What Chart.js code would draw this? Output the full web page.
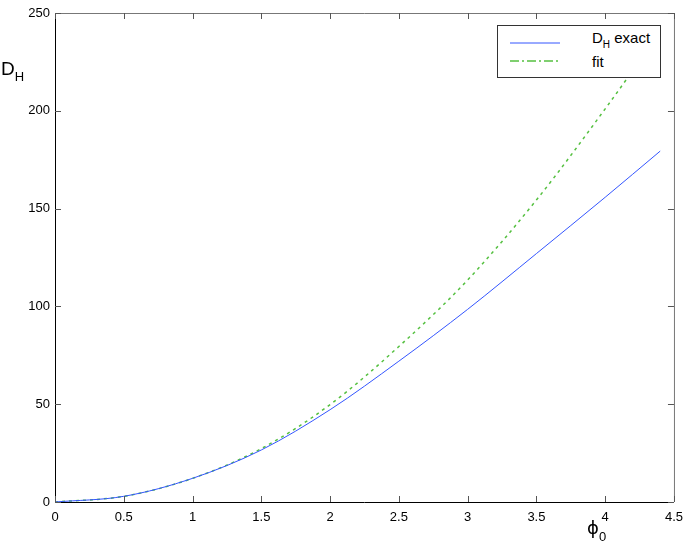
<!DOCTYPE html>
<html>
<head>
<meta charset="utf-8">
<script src="https://cdn.jsdelivr.net/npm/chart.js@4"></script>
<style>
  body { margin: 0; background: #fff; font-family: "Liberation Sans", Arial, sans-serif; }
  #wrap { position: relative; width: 691px; height: 549px; }
  .lbl { position: absolute; color: #000; white-space: nowrap; line-height: 1; }
  .lbl sub { font-size: 0.68em; vertical-align: -0.45em; }
  #legend { position: absolute; left: 497px; top: 25px; width: 162px; height: 51px; border: 1px solid #333; background: #fff; }
  #legend svg { position: absolute; left: 12px; }
  #legend .txt { position: absolute; left: 94px; font-size: 15px; }
</style>
</head>
<body>
<div id="wrap">
  <canvas id="chart" width="691" height="549"></canvas>
  <div class="lbl" style="left:1px; top:59px; font-size:19px;">D<sub style="font-size:13px; vertical-align:-6px;">H</sub></div>
  <div class="lbl" style="left:587px; top:519px; font-size:18px; font-family:'DejaVu Sans';">ϕ<sub style="font-size:13px; vertical-align:-7px; font-family:'Liberation Sans';">0</sub></div>
  <div id="legend">
    <svg width="52" height="4" style="top:15px"><line x1="0" y1="2" x2="50" y2="2" stroke="#3355ff" stroke-width="1"/></svg>
    <div class="txt" style="top:3px;">D<sub style="font-size:10px; vertical-align:-5px;">H</sub> exact</div>
    <svg width="52" height="4" style="top:33px"><line x1="0" y1="2" x2="50" y2="2" stroke="#55c040" stroke-width="1.5" stroke-dasharray="9,3,2,3"/></svg>
    <div class="txt" style="top:27px;">fit</div>
  </div>
</div>
<script>
// values
const phi = [0, 0.5, 1, 1.5, 2, 2.5, 3, 3.5, 4, 4.4];
const dExact = [0, 2.9, 12.1, 26.6, 47.2, 72, 98.5, 127, 155.8, 179.4];
const dFit = [0, 2.9, 12.1, 27.3, 49.8, 79.5, 113.5, 154.4, 201, 240.4];

const xTicks = [0, 0.5, 1, 1.5, 2, 2.5, 3, 3.5, 4, 4.5];
const yTicks = [0, 50, 100, 150, 200, 250];

function pts(ys) {
    return phi.map((x, i) => ({ x: x, y: ys[i] }));
}

// matlab style box with inward ticks
const boxTicks = {
    id: 'boxTicks',
    afterDraw(chart) {
        const { ctx, chartArea: a, scales } = chart;
        ctx.save();
        ctx.lineWidth = 1;
        ctx.strokeStyle = '#777';
        ctx.beginPath();
        ctx.moveTo(a.left, a.top + 0.5);
        ctx.lineTo(a.right + 0.5, a.top + 0.5);
        ctx.lineTo(a.right + 0.5, a.bottom);
        ctx.stroke();

        ctx.strokeStyle = '#555';
        ctx.beginPath();
        scales.x.ticks.forEach(t => {
            let px = Math.round(scales.x.getPixelForValue(t.value)) + 0.5;
            ctx.moveTo(px, a.bottom);
            ctx.lineTo(px, a.bottom - 6);
            ctx.moveTo(px, a.top);
            ctx.lineTo(px, a.top + 6);
        });
        scales.y.ticks.forEach(t => {
            let py = Math.round(scales.y.getPixelForValue(t.value)) + 0.5;
            ctx.moveTo(a.left, py);
            ctx.lineTo(a.left + 6, py);
            ctx.moveTo(a.right, py);
            ctx.lineTo(a.right - 6, py);
        });
        ctx.stroke();
        ctx.restore();
    }
};

const ctx = document.getElementById('chart').getContext('2d');

new Chart(ctx, {
    type: 'line',
    data: {
        datasets: [{
            label: 'D_H exact',
            data: pts(dExact),
            borderColor: '#3355ff',
            borderWidth: 1,
            pointRadius: 0,
            cubicInterpolationMode: 'monotone',
            fill: false
        }, {
            label: 'fit',
            data: pts(dFit),
            borderColor: '#55c040',
            borderWidth: 1.5,
            borderDash: [3, 4],
            pointRadius: 0,
            cubicInterpolationMode: 'monotone',
            fill: false
        }]
    },
    options: {
        responsive: false,
        animation: false,
        events: [],
        layout: { padding: { top: 13, right: 15, left: 0, bottom: 0 } },
        plugins: {
            legend: { display: false },
            tooltip: { enabled: false }
        },
        scales: {
            x: {
                type: 'linear',
                min: 0,
                max: 4.5,
                afterBuildTicks: s => { s.ticks = xTicks.map(v => ({ value: v })); },
                afterFit: s => { s.height = 47; },
                grid: { drawOnChartArea: false, drawTicks: false },
                border: { color: '#000', width: 1 },
                ticks: {
                    color: '#000',
                    padding: 8,
                    maxRotation: 0,
                    font: { family: 'Liberation Sans', size: 13 },
                    callback: v => String(v)
                }
            },
            y: {
                type: 'linear',
                min: 0,
                max: 250,
                afterBuildTicks: s => { s.ticks = yTicks.map(v => ({ value: v })); },
                afterFit: s => { s.width = 55; },
                grid: { drawOnChartArea: false, drawTicks: false },
                border: { color: '#000', width: 1 },
                ticks: {
                    color: '#000',
                    padding: 5,
                    font: { family: 'Liberation Sans', size: 13 },
                    callback: v => String(v)
                }
            }
        }
    },
    plugins: [boxTicks]
});
</script>
</body>
</html>
